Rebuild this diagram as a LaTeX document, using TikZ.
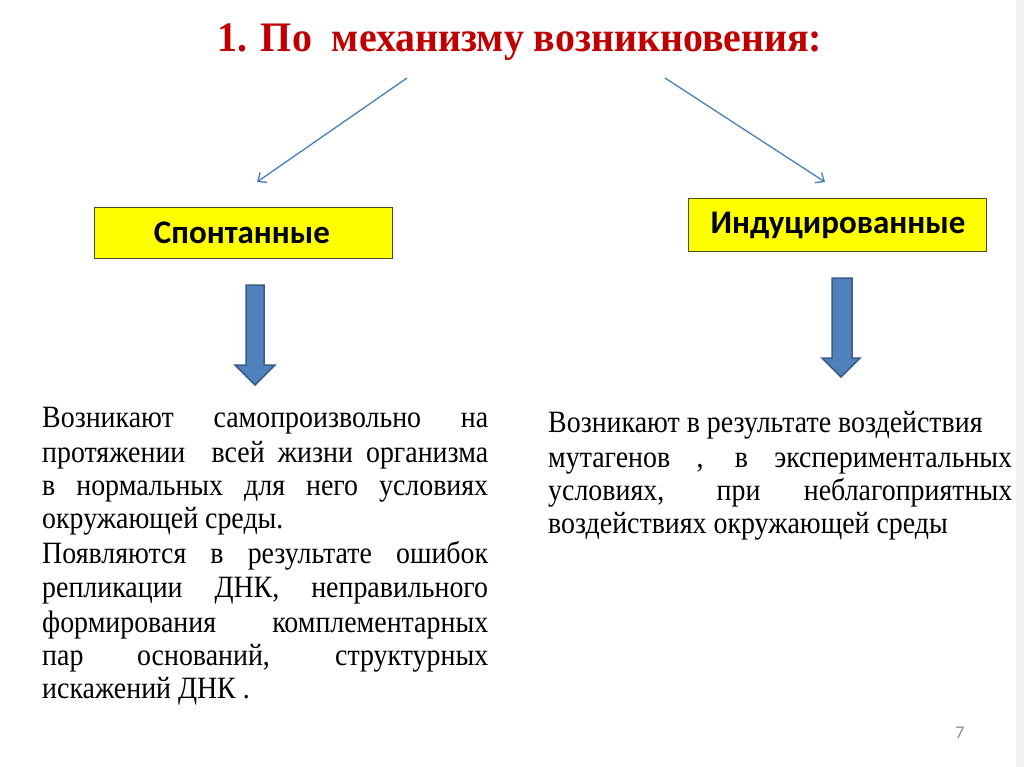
\documentclass[tikz,border=0pt]{standalone}
\usepackage{graphicx}
\usepackage{fontspec}
\setmainfont{Liberation Serif}
\newfontfamily\boxfont{Carlito}
\usetikzlibrary{arrows.meta}
\definecolor{titlered}{HTML}{C00000}
\definecolor{thinblue}{HTML}{4A7EBB}
\definecolor{blkfill}{HTML}{4F81BD}
\definecolor{blkdraw}{HTML}{385D8A}
\definecolor{boxyellow}{HTML}{FFFF00}
\definecolor{boxedge}{HTML}{4A4A20}
\definecolor{pagegrey}{HTML}{8C8C8C}
\definecolor{edgegrey}{HTML}{F2F2F2}
\tikzset{
  thinarrow/.style={draw=thinblue, line width=1.3pt, -{Straight Barb[length=7pt,width=12pt,line width=1.3pt]}},
  yellowbox/.style={fill=boxyellow, draw=boxedge, line width=0.9pt},
  boxtext/.style={font=\boxfont\bfseries\fontsize{33}{36}\selectfont, anchor=center},
  blockarrow/.style={fill=blkfill, draw=blkdraw, line width=1.5pt, line join=miter},
  bodyline/.style={anchor=base west, inner sep=0pt, font=\fontsize{31}{34}\selectfont},
}
% justified line: total width #1 (px), text horizontally condensed to 0.9
\newcommand{\jl}[2]{\scalebox{0.9}[1]{\makebox[\dimexpr #1pt*10/9\relax][s]{#2}}}
\newcommand{\nl}[1]{\scalebox{0.9}[1]{#1}}
\begin{document}
\begin{tikzpicture}[x=1pt,y=-1pt]
\useasboundingbox (0,0) rectangle (1024,767);
\fill[white] (0,0) rectangle (1024,767);
\fill[edgegrey] (1016,0) rectangle (1024,767);

% title
\node[anchor=base, inner sep=0pt, text=titlered, font=\fontsize{42}{46}\selectfont\bfseries] (title) at (520,52) {\scalebox{0.95}[1]{1. По\ \ механизму возникновения:}};

% thin arrows
\coordinate (tl) at (407,78);
\coordinate (tr) at (665,78);
\coordinate (el) at (257,182);
\coordinate (er) at (825,182);
\draw[thinarrow] (tl) -- (el);
\draw[thinarrow] (tr) -- (er);

% boxes
\draw[yellowbox] (94,207) rectangle (392,258);
\node[boxtext] (spont) at (242,233) {Спонтанные};
\draw[yellowbox] (688,198) rectangle (986,251);
\node[boxtext] (induc) at (838,225) {Индуцированные};

% block arrows
\draw[blockarrow] (246,285) -- (264,285) -- (264,365) -- (275,365) -- (255,385) -- (235,365) -- (246,365) -- cycle;
\draw[blockarrow] (832,278) -- (852,278) -- (852,358) -- (860,358) -- (841,377) -- (822,358) -- (832,358) -- cycle;

% left text
\node[bodyline] (l1) at (42,427) {\jl{446}{Возникают самопроизвольно на}};
\node[bodyline] (l2) at (42,462) {\jl{446}{протяжении\ \ всей жизни организма}};
\node[bodyline] (l3) at (42,495) {\jl{446}{в нормальных для него условиях}};
\node[bodyline] (l4) at (42,528) {\nl{окружающей среды.}};
\node[bodyline] (l5) at (42,563) {\jl{446}{Появляются в результате ошибок}};
\node[bodyline] (l6) at (42,597) {\jl{446}{репликации ДНК, неправильного}};
\node[bodyline] (l7) at (42,632) {\jl{446}{формирования комплементарных}};
\node[bodyline] (l8) at (42,665) {\jl{446}{пар оснований, структурных}};
\node[bodyline] (l9) at (42,698) {\nl{искажений ДНК .}};

% right text
\node[bodyline] (r1) at (548,432) {\nl{Возникают в результате воздействия}};
\node[bodyline] (r2) at (548,467) {\jl{464}{мутагенов , в экспериментальных}};
\node[bodyline] (r3) at (548,500) {\jl{464}{условиях, при неблагоприятных}};
\node[bodyline] (r4) at (548,533) {\nl{воздействиях окружающей среды}};

% page number
\node[anchor=center, text=pagegrey, font=\boxfont\fontsize{18}{20}\selectfont] (pnum) at (960,733) {7};
\end{tikzpicture}
\end{document}
